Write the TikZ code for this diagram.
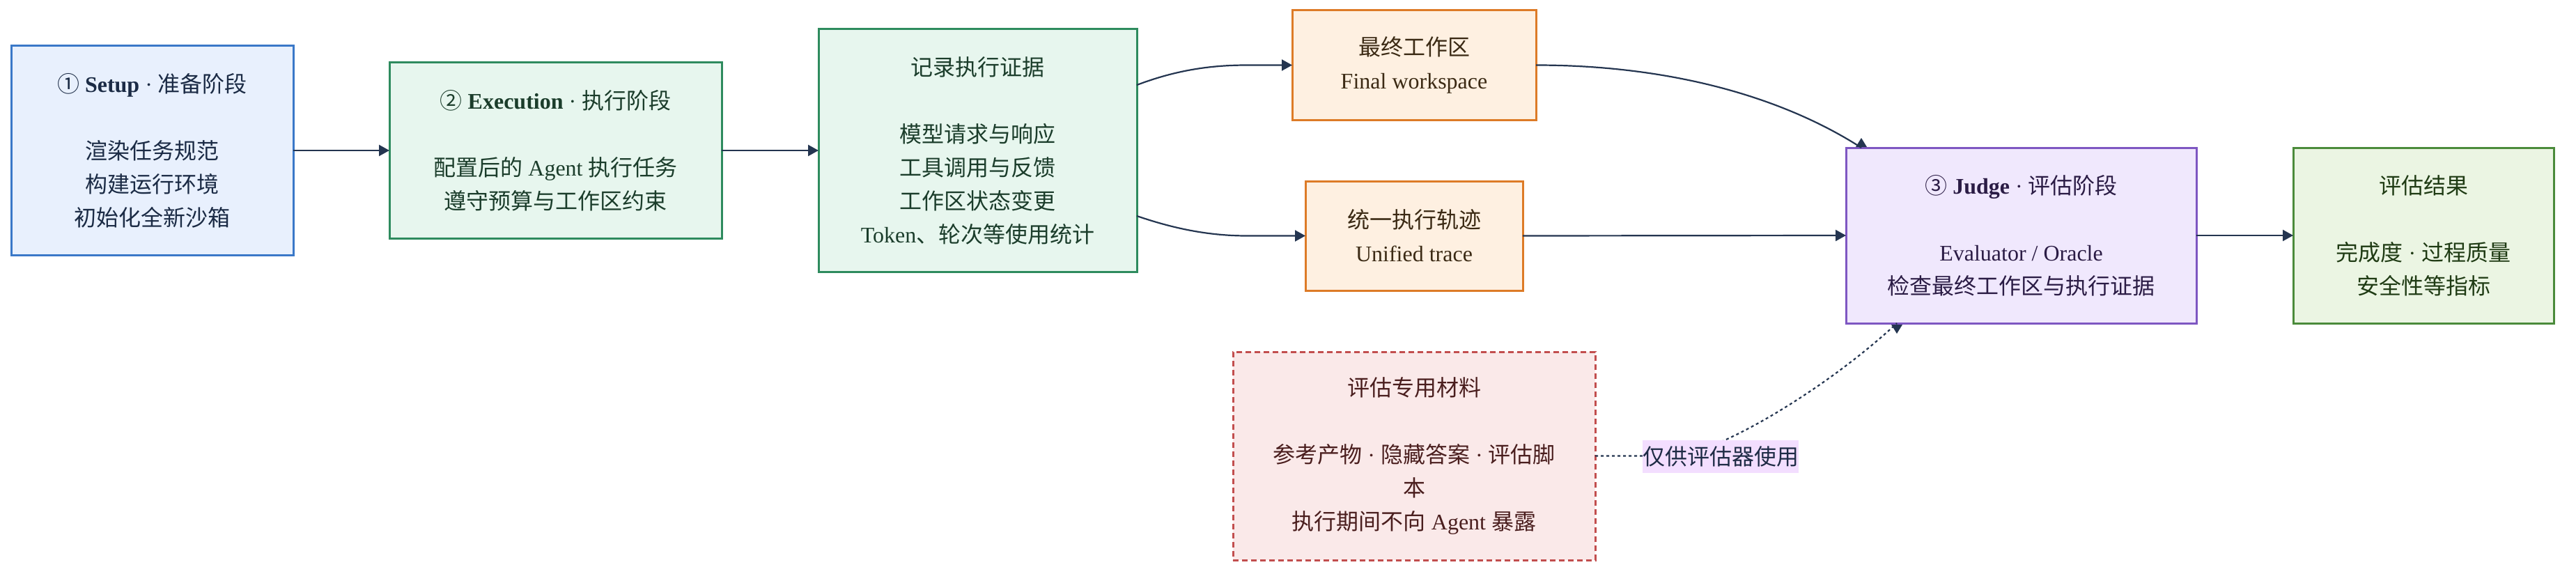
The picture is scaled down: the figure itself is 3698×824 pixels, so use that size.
\documentclass[tikz,border=0pt]{standalone}
\usepackage{fontspec}
\setmainfont{Liberation Serif}
\newfontfamily\cjk{Noto Sans CJK SC}
\newcommand\zh[1]{{\cjk #1}}
\usetikzlibrary{arrows.meta}
\definecolor{setupF}{HTML}{E8F0FD}\definecolor{setupB}{HTML}{3A78C8}\definecolor{setupT}{HTML}{1B2B45}
\definecolor{execF}{HTML}{E7F6EE}\definecolor{execB}{HTML}{2E8B5E}\definecolor{execT}{HTML}{1B3D2B}
\definecolor{fwF}{HTML}{FEF0E1}\definecolor{fwB}{HTML}{DD7B27}\definecolor{fwT}{HTML}{3B2A14}
\definecolor{judgeF}{HTML}{F0E8FD}\definecolor{judgeB}{HTML}{7E57C2}\definecolor{judgeT}{HTML}{2B1C45}
\definecolor{resF}{HTML}{EBF5E3}\definecolor{resB}{HTML}{4B8B3B}\definecolor{resT}{HTML}{1F3B14}
\definecolor{emF}{HTML}{FAE9E9}\definecolor{emB}{HTML}{C24E4E}\definecolor{emT}{HTML}{4A1E1E}
\definecolor{lblF}{HTML}{F3DEFF}\definecolor{lblT}{HTML}{1E2B45}
\definecolor{edgeC}{HTML}{243550}
\tikzset{
  box/.style={draw, line width=1.5pt, inner sep=0pt, outer sep=0pt, align=center,
    font=\fontsize{16}{24}\selectfont},
  edgeline/.style={draw=edgeC, line width=1.1pt},
  edge/.style={edgeline, -{Triangle[length=7.5pt,width=8pt]}},
  tipfill/.style={fill=edgeC},
}
\begin{document}
\begin{tikzpicture}[x=0.5pt,y=-0.5pt]
\useasboundingbox (0,0) rectangle (3698,824);

\node[box, draw=setupB, fill=setupF, text=setupT, minimum width=202.5pt, minimum height=150pt] (setup) at (218.5,216)
  {\zh{①} \textbf{Setup} · \zh{准备阶段}\\[24pt]\zh{渲染任务规范}\\\zh{构建运行环境}\\\zh{初始化全新沙箱}};

\node[box, draw=execB, fill=execF, text=execT, minimum width=238.5pt, minimum height=126pt] (exec) at (797.5,216)
  {\zh{②} \textbf{Execution} · \zh{执行阶段}\\[24pt]\zh{配置后的} Agent \zh{执行任务}\\\zh{遵守预算与工作区约束}};

\node[box, draw=execB, fill=execF, text=execT, minimum width=228.5pt, minimum height=174pt] (ev) at (1403.5,216)
  {\zh{记录执行证据}\\[24pt]\zh{模型请求与响应}\\\zh{工具调用与反馈}\\\zh{工作区状态变更}\\Token\zh{、轮次等使用统计}};

\node[box, draw=fwB, fill=fwF, text=fwT, minimum width=175pt, minimum height=78.5pt] (fw) at (2030,93.5)
  {\zh{最终工作区}\\Final workspace};

\node[box, draw=fwB, fill=fwF, text=fwT, minimum width=156pt, minimum height=78.5pt] (ut) at (2030,338.5)
  {\zh{统一执行轨迹}\\Unified trace};

\node[box, draw=judgeB, fill=judgeF, text=judgeT, minimum width=251.5pt, minimum height=126pt] (judge) at (2901.5,338)
  {\zh{③} \textbf{Judge} · \zh{评估阶段}\\[24pt]Evaluator / Oracle\\\zh{检查最终工作区与执行证据}};

\node[box, draw=resB, fill=resF, text=resT, minimum width=187pt, minimum height=126pt] (res) at (3479,338)
  {\zh{评估结果}\\[24pt]\zh{完成度} · \zh{过程质量}\\\zh{安全性等指标}};

\node[box, draw=emB, fill=emF, text=emT, dash pattern=on 4pt off 2.5pt, minimum width=260pt, minimum height=149.5pt] (em) at (2030,654.5)
  {\zh{评估专用材料}\\[24pt]\zh{参考产物} · \zh{隐藏答案} · \zh{评估脚}\\\zh{本}\\\zh{执行期间不向} Agent \zh{暴露}};

% connectors
\draw[edge] (setup.east) -- (exec.west);
\draw[edge] (exec.east) -- (ev.west);
\draw[edge] ([yshift=47pt]ev.east) .. controls (1690,100) and (1740,93.5) .. (1790,93.5) -- (fw.west);
\draw[edge] ([yshift=-47pt]ev.east) .. controls (1690,330) and (1740,338.5) .. (1790,338.5) -- (ut.west);
\draw[edgeline] (fw.east) .. controls (2400,93.5) and (2560,140) .. ([xshift=11pt]judge.north west);
\fill[tipfill] ([xshift=11pt]judge.north west) ++(-8,-1) -- ++(16,0) -- ++(-8,-13) -- cycle;
\draw[edge] (ut.east) -- (judge.west);
\draw[edge] (judge.east) -- (res.west);
\draw[edgeline, dash pattern=on 2pt off 2pt] (em.east) -- (2400,654.5) .. controls (2460,654.5) and (2620,560) .. ([xshift=36.5pt]judge.south west);
\fill[tipfill] ([xshift=36.5pt]judge.south west) ++(-8,2) -- ++(16,0) -- ++(-8,13) -- cycle;
\node[fill=lblF, text=lblT, inner sep=0pt, minimum width=112pt, minimum height=23.5pt,
  font=\fontsize{16}{24}\selectfont] (lbl) at (2470,655) {\zh{仅供评估器使用}};
\end{tikzpicture}
\end{document}
